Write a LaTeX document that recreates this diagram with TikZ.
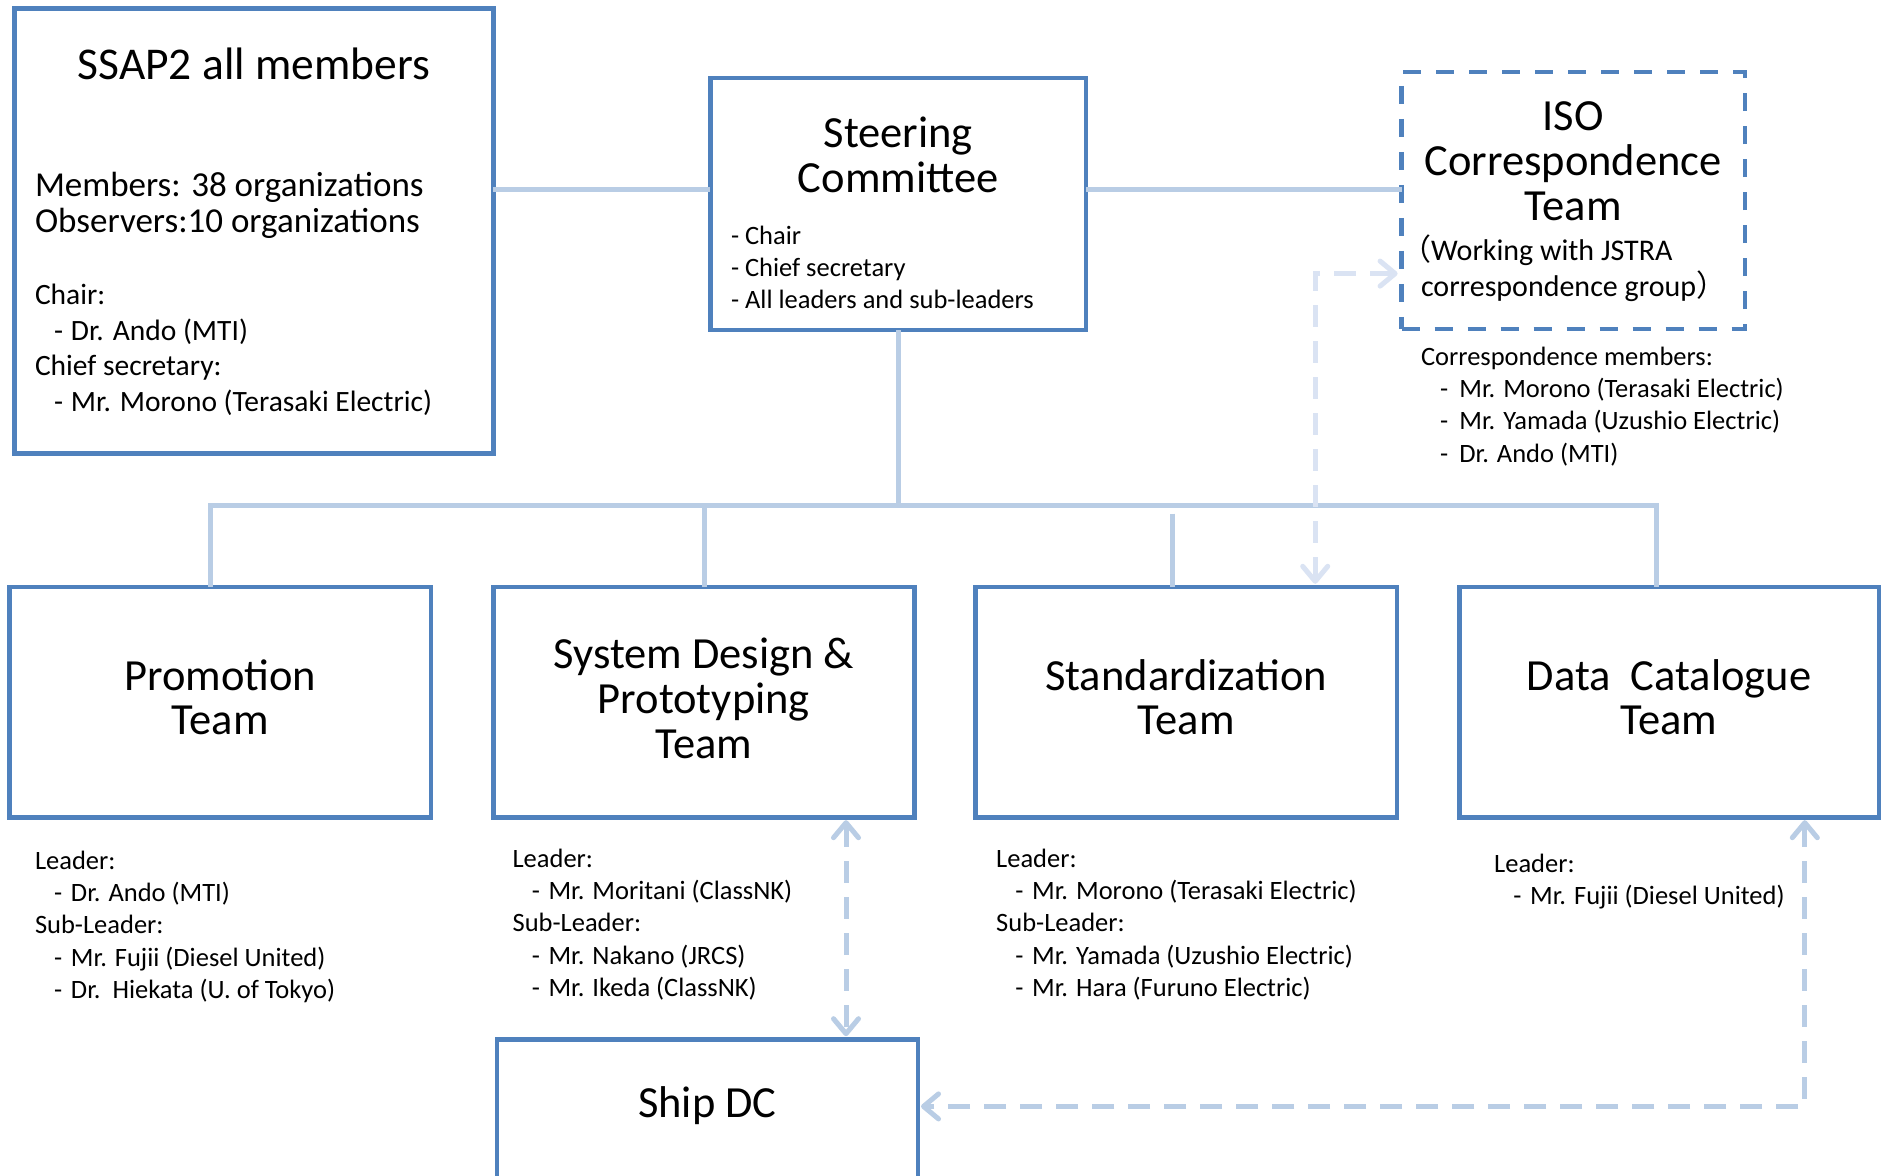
\documentclass[tikz,border=0pt]{standalone}
\usepackage{fontspec}
\setmainfont{Carlito}
\newfontfamily\cjk{Noto Sans CJK JP}
\usetikzlibrary{arrows.meta}

\definecolor{boxblue}{HTML}{4F81BD}
\definecolor{linkblue}{HTML}{B9CDE5}
\definecolor{palelink}{HTML}{DAE3F3}

% text sizes (1pt = 1px of the drawing)
\newcommand\ttlfont{\fontsize{44.5}{44.8}\selectfont}
\newcommand\bigttl{\fontsize{45.5}{45.5}\selectfont}
\newcommand\memfont{\fontsize{35}{36}\selectfont}
\newcommand\midfont{\fontsize{29.5}{35.6}\selectfont}
\newcommand\isofont{\fontsize{30}{35}\selectfont}
\newcommand\lstfont{\fontsize{26.5}{32.2}\selectfont}

% stacked lines, baseline of the first line is the node baseline
\newcommand\stack[2][l]{\begin{tabular}[t]{@{}#1@{}}#2\end{tabular}}
% indented "- name" entry
\newcommand\ent[2][16.8pt]{\hspace*{19.2pt}\makebox[#1][l]{-}#2}

\tikzset{
  box/.style={draw=boxblue, line width=4.6pt, rectangle, inner sep=0pt, outer sep=0pt, anchor=north west},
  isobox/.style={box, dash pattern=on 18pt off 15pt},
  conn/.style={draw=linkblue, line width=5pt},
  dlink/.style={draw=linkblue, line width=5pt, dash pattern=on 22pt off 14pt,
    >={Straight Barb[length=15pt, width=25pt, round]}, <->},
  plink/.style={dlink, draw=palelink},
  ttl/.style={anchor=base, font=\ttlfont, inner sep=0pt, yshift=-2.5pt},
  txt/.style={anchor=base west, inner sep=0pt, yshift=-2.5pt},
}

\begin{document}
\begin{tikzpicture}[x=1pt, y=-1pt]
\useasboundingbox (0,0) rectangle (1881,1175);
\clip (0,0) rectangle (1881,1175);
\fill[white] (0,0) rectangle (1881,1175);

% ---- boxes ----
\node[box, minimum width=478.8pt, minimum height=445.2pt] (ssap) at (14.4,8.4) {};
\node[box, minimum width=375.6pt, minimum height=252pt] (steer) at (710.4,78) {};
\node[isobox, minimum width=343.2pt, minimum height=256.8pt] (iso) at (1401.6,72) {};
\node[box, minimum width=421.2pt, minimum height=230.4pt] (promo) at (9.6,586.8) {};
\node[box, minimum width=421.2pt, minimum height=230.4pt] (sysd) at (493.2,586.8) {};
\node[box, minimum width=421.2pt, minimum height=230.4pt] (std) at (975.6,586.8) {};
\node[box, minimum width=419.8pt, minimum height=230.4pt] (data) at (1459.2,586.8) {};
\node[box, minimum width=421.2pt, minimum height=170pt] (ship) at (496.8,1039.2) {};

% ---- solid connectors ----
\coordinate (hy) at (0,189.6);
\coordinate (busL) at (210,505.6);
\coordinate (busR) at (1656,505.6);
\coordinate (d2) at (704.4,505.6);
\coordinate (d3) at (1172.4,513.6);
\draw[conn] (ssap.east |- hy) -- (steer.west |- hy);
\draw[conn] (steer.east |- hy) -- (iso.west |- hy);
\draw[conn] (steer.south) -- (steer.south |- busL);
\draw[conn] (promo.north -| busL) -- (busL) -- (busR) -- (data.north -| busR);
\draw[conn] (d2) -- (d2 |- sysd.north);
\draw[conn] (d3) -- (d3 |- std.north);

% ---- dashed two-way links ----
\coordinate (ca) at (1315.2,273.6);
\coordinate (cb) at (846,0);
\coordinate (cc) at (1804.8,1106.4);
\draw[plink, shorten >=4pt, shorten <=3pt] (ca |- std.north) -- (ca) -- (iso.west |- ca);
\draw[dlink, shorten >=3pt, shorten <=3pt] (cb |- sysd.south) -- (cb |- ship.north);
\draw[dlink, shorten >=3pt, shorten <=3pt] (cc |- data.south) -- (cc) -- (ship.east |- cc);

% ---- box titles ----
\node[ttl, font=\bigttl] (ssapT) at (ssap.north |- 0,77) {SSAP2 all members};
\node[ttl] (steerT) at (steer.north |- 0,145) {\stack[c]{Steering\\Committee}};
\node[ttl] (isoT) at (iso.north |- 0,128.4) {\stack[c]{ISO\\Correspondence\\Team}};
\node[ttl] (promoT) at (promo.north |- 0,687.6) {\stack[c]{Promotion\\Team}};
\node[ttl] (sysdT) at (sysd.north |- 0,666) {\stack[c]{System Design \&\\Prototyping\\Team}};
\node[ttl] (stdT) at (std.north |- 0,687.6) {\stack[c]{Standardization\\Team}};
\node[ttl] (dataT) at (data.north |- 0,687.6) {\stack[c]{Data\ \ Catalogue\\Team}};
\node[ttl] (shipT) at (ship.north |- 0,1115) {Ship DC};

% ---- box details ----
\node[txt, font=\memfont] (ssapM) at (34.8,194)
  {\stack{Members: 38 organizations\\Observers:10 organizations}};
\node[txt, font=\midfont] (ssapC) at (34.8,302)
  {\stack{Chair:\\\ent{Dr. Ando (MTI)}\\Chief secretary:\\\ent{Mr. Morono (Terasaki Electric)}}};
\node[txt, font=\lstfont] (steerL) at (730.8,242)
  {\stack{- Chair\\- Chief secretary\\- All leaders and sub-leaders}};
\node[txt, font=\isofont] (isoP) at (1401,258)
  {\stack{{\cjk （}Working with JSTRA\\\hspace*{19.8pt}correspondence group{\cjk ）}}};
\node[txt, font=\lstfont] (isoM) at (1420.8,363)
  {\stack{Correspondence members:\\\ent[19.2pt]{Mr. Morono (Terasaki Electric)}\\\ent[19.2pt]{Mr. Yamada (Uzushio Electric)}\\\ent[19.2pt]{Dr. Ando (MTI)}}};

% ---- team members ----
\node[txt, font=\lstfont] (promoL) at (34.8,867)
  {\stack{Leader:\\\ent{Dr. Ando (MTI)}\\Sub-Leader:\\\ent{Mr. Fujii (Diesel United)}\\\ent{Dr.~~Hiekata (U. of Tokyo)}}};
\node[txt, font=\lstfont] (sysdL) at (512.4,865)
  {\stack{Leader:\\\ent{Mr. Moritani (ClassNK)}\\Sub-Leader:\\\ent{Mr. Nakano (JRCS)}\\\ent{Mr. Ikeda (ClassNK)}}};
\node[txt, font=\lstfont] (stdL) at (996,865)
  {\stack{Leader:\\\ent{Mr. Morono (Terasaki Electric)}\\Sub-Leader:\\\ent{Mr. Yamada (Uzushio Electric)}\\\ent{Mr. Hara (Furuno Electric)}}};
\node[txt, font=\lstfont] (dataL) at (1494,870)
  {\stack{Leader:\\\ent{Mr. Fujii (Diesel United)}}};
\end{tikzpicture}
\end{document}
